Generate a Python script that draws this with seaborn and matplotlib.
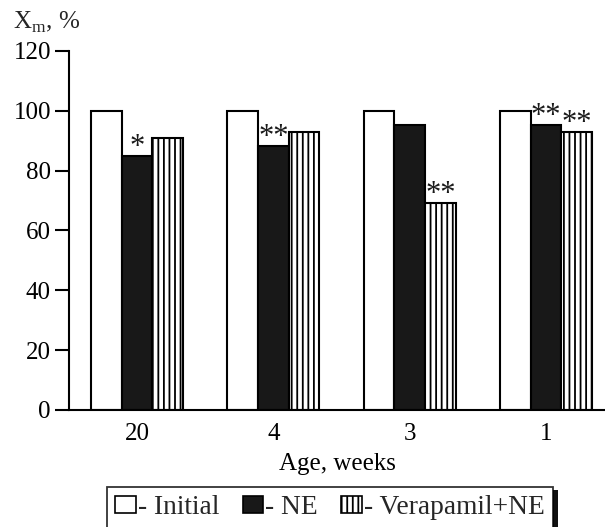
import numpy as np
import pandas as pd
import matplotlib
matplotlib.use("Agg")
import matplotlib.pyplot as plt
import seaborn as sns
from matplotlib.patches import Patch, Rectangle

ages = ["20", "4", "3", "1"]
groups = ["Initial", "NE", "Verapamil+NE"]
initial = [100, 100, 100, 100]
ne = [85, 88.4, 95.3, 95.3]
verapamil_ne = [90.8, 93, 69.3, 93]
stars_ne = ["*", "**", "", "**"]
stars_ver = ["", "", "**", "**"]
yticks = [0, 20, 40, 60, 80, 100, 120]

df = pd.DataFrame({
    "age": ages * 3,
    "group": [g for g in groups for _ in ages],
    "value": initial + ne + verapamil_ne,
})

sns.set_theme(style="ticks")
plt.rcParams["font.family"] = ["Liberation Serif", "DejaVu Serif"]
plt.rcParams["mathtext.fontset"] = "custom"
plt.rcParams["mathtext.rm"] = "Liberation Serif"
plt.rcParams["hatch.linewidth"] = 1.3
plt.rcParams["hatch.color"] = "#333333"

FS = 18
LFS = 19.8
fig = plt.figure(figsize=(6.05, 5.27), dpi=100)
ax = fig.add_axes([69 / 605, 1 - 410 / 527, 1 - 69 / 605, (410 - 51) / 527])

palette = {"Initial": "white", "NE": "#181818", "Verapamil+NE": "white"}
sns.barplot(data=df, x="age", y="value", hue="group", order=ages, hue_order=groups,
            palette=palette, width=0.674, edgecolor="black", linewidth=1.5,
            saturation=1, legend=False, ax=ax)

for bar in ax.containers[2]:
    bar.set_hatch("|||")

for cont, stars in ((ax.containers[1], stars_ne), (ax.containers[2], stars_ver)):
    for bar, s in zip(cont, stars):
        if s:
            ax.text(bar.get_x() + bar.get_width() / 2, bar.get_height() + 0.2, s,
                    ha="center", va="baseline", fontsize=22, color="#1a1a1a")

ax.set_xlim(-0.5, 3.433)
ax.set_ylim(0, 120)
ax.set_yticks(yticks)
ax.set_yticklabels([str(v) for v in yticks])
ax.tick_params(axis="y", length=10, width=1.5, labelsize=FS, pad=3, colors="black")
ax.tick_params(axis="x", length=0, labelsize=FS, pad=9, colors="black")
for side in ("top", "right"):
    ax.spines[side].set_visible(False)
for side in ("left", "bottom"):
    ax.spines[side].set_linewidth(1.5)
    ax.spines[side].set_color("black")
ax.set_xlabel("Age, weeks", fontsize=FS, labelpad=6, color="black")
ax.set_ylabel("")
fig.text(13 / 605, 1 - 22 / 527, r"X$_{\mathrm{m}}$, %", fontsize=FS, va="center", ha="left")

handles = [
    Patch(facecolor="white", edgecolor="black", linewidth=1.2),
    Patch(facecolor="#181818", edgecolor="black", linewidth=1.2),
    Patch(facecolor="white", edgecolor="black", linewidth=1.2, hatch="|||"),
]
labels = ["- Initial", "- NE", "- Verapamil+NE"]
leg = fig.legend(handles, labels, loc="upper left",
                 bbox_to_anchor=(107 / 605, 1 - 487 / 527, (553 - 107) / 605, 0),
                 mode="expand", ncol=3, fontsize=LFS, frameon=True, fancybox=False,
                 borderaxespad=0, handlelength=0.74, handleheight=0.6,
                 handletextpad=0.08, columnspacing=0.8, borderpad=0.3)
leg.get_frame().set_edgecolor("black")
leg.get_frame().set_linewidth(1.3)

fig.canvas.draw()
bb = leg.get_window_extent().transformed(fig.transFigure.inverted())
fig.patches.append(Rectangle((bb.x1, 0), 5 / 605, bb.y1 - 3 / 527,
                             transform=fig.transFigure, facecolor="#111111",
                             edgecolor="none", zorder=-1))

fig.savefig("out.png", dpi=100)
